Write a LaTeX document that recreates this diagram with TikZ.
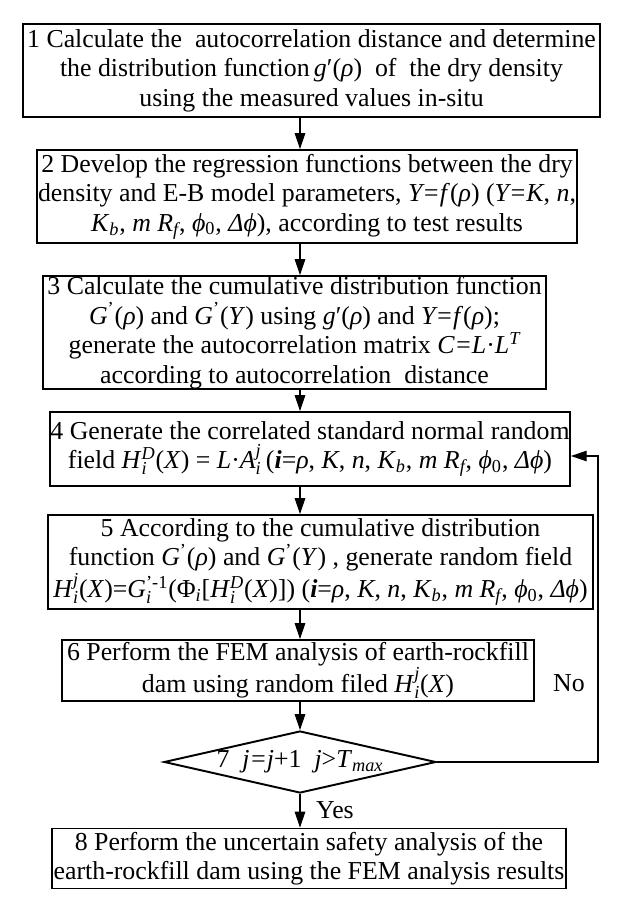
\documentclass[tikz,border=0pt]{standalone}
\usepackage{fontspec}
\setmainfont{Liberation Serif}
\usetikzlibrary{arrows.meta,shapes.geometric}
\newcommand{\sz}{\fontsize{10.4}{10.4}\selectfont}
\newcommand{\supsub}[2]{$^{\hbox{\sz #1}}_{\hbox{\sz #2}}$}
\newcommand{\lowsub}[1]{$_{\hbox{\sz #1}}$}
\newcommand{\highsup}[1]{$^{\hbox{\sz #1}}$}

\begin{document}
\begin{tikzpicture}[x=0.02cm, y=-0.02cm,
    stepbox/.style={draw, line width=1.1pt, align=center, inner sep=0pt,
      font=\fontsize{14.7}{16.8}\selectfont},
    flow/.style={-{Triangle[length=9pt,width=6pt]}, line width=0.6pt},
    lbl/.style={font=\fontsize{14.7}{16.8}\selectfont}]
        \useasboundingbox (0,0) rectangle (622,906);
        \coordinate (axis) at (300,0);

        \node[stepbox, minimum width=11.54cm, minimum height=1.86cm] (s1) at (311.5,70.5)
            {1 Calculate the~ autocorrelation distance and determine\\
             the distribution function\,\textit{g}′(\textit{ρ})~ of~ the dry density\\
             using the measured values in-situ};

        \node[stepbox, minimum width=10.8cm, minimum height=1.86cm] (s2) at (307,196.5)
            {2 Develop the regression functions between the dry\\
             density and E-B model parameters, \textit{Y=f}(\textit{ρ}) (\textit{Y=K}, \textit{n},\\
             \textit{K}\lowsub{\itshape b}, \textit{m R}\lowsub{\itshape f}, \textit{ϕ}\lowsub{0}, \textit{Δϕ}), according to test results};

        \node[stepbox, minimum width=10.06cm, minimum height=2.26cm] (s3) at (294.5,332.5)
            {3 Calculate the cumulative distribution function\\
             \textit{G}\highsup{'}(\textit{ρ}) and \textit{G}\highsup{'}(\textit{Y}) using \textit{g}′(\textit{ρ}) and \textit{Y=f}(\textit{ρ});\\
             generate the autocorrelation matrix \textit{C=L}·\textit{L}\highsup{\itshape T}\\
             according to autocorrelation~ distance};

        \node[stepbox, minimum width=10.4cm, minimum height=1.48cm] (s4) at (310,449)
            {4 Generate the correlated standard normal random\\
             field \textit{H}\supsub{\itshape D}{\itshape i}(\textit{X}) = \textit{L}·\textit{A}\supsub{\itshape j}{\itshape i}\,(\textbf{\textit{i}}=\textit{ρ}, \textit{K}, \textit{n}, \textit{K}\lowsub{\itshape b}, \textit{m R}\lowsub{\itshape f}, \textit{ϕ}\lowsub{0}, \textit{Δϕ})};

        \node[stepbox, minimum width=10.9cm, minimum height=1.88cm] (s5) at (320.5,562)
            {5 According to the cumulative distribution\\
             function \textit{G}\highsup{'}(\textit{ρ}) and \textit{G}\highsup{'}(\textit{Y}) , generate random field\\
             \textit{H}\supsub{\itshape j}{\itshape i}(\textit{X})=\textit{G}\supsub{'-1}{\itshape i}(Φ\lowsub{\itshape i}[\textit{H}\supsub{\itshape D}{\itshape i}(\textit{X})]) (\textbf{\textit{i}}=\textit{ρ}, \textit{K}, \textit{n}, \textit{K}\lowsub{\itshape b}, \textit{m R}\lowsub{\itshape f}, \textit{ϕ}\lowsub{0}, \textit{Δϕ})};

        \node[stepbox, minimum width=9.44cm, minimum height=1.22cm] (s6) at (298,670.5)
            {6 Perform the FEM analysis of earth-rockfill\\
             dam using random filed \textit{H}\supsub{\itshape j}{\itshape i}(\textit{X})};

        \node[stepbox, diamond, aspect=4.4, minimum width=5.44cm, minimum height=1.24cm] (s7) at (300,762)
            {7~ \textit{j=j}+1~ \textit{j}>\textit{T}\lowsub{\itshape max}};

        \node[stepbox, minimum width=10.28cm, minimum height=1.2cm] (s8) at (309,858.5)
            {8 Perform the uncertain safety analysis of the\\
             earth-rockfill dam using the FEM analysis results};

        \draw[flow] (s1.south -| axis) -- (s2.north -| axis);
        \draw[flow] (s2.south -| axis) -- (s3.north -| axis);
        \draw[flow] (s3.south -| axis) -- (s4.north -| axis);
        \draw[flow] (s4.south -| axis) -- (s5.north -| axis);
        \draw[flow] (s5.south -| axis) -- (s6.north -| axis);
        \draw[flow] (s6.south -| axis) -- (s7.north);
        \draw[flow] (s7.south) -- (s8.north -| axis);

        \coordinate (back) at (598,456);
        \draw[flow] (s7.east) -| (back) -- (s4.east |- back);

        \node[lbl] (no) at (569,683) {No};
        \node[lbl] (yes) at (335,810) {Yes};
\end{tikzpicture}
\end{document}
